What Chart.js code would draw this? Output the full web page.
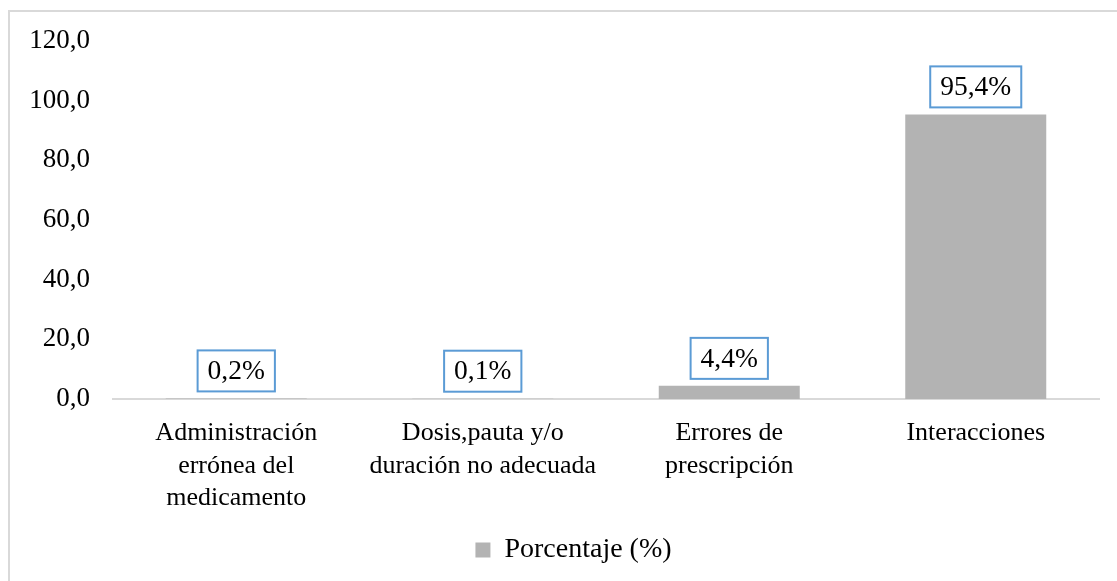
<!DOCTYPE html>
<html>
<head>
<meta charset="utf-8">
<script src="https://cdn.jsdelivr.net/npm/chart.js@4/dist/chart.umd.min.js"></script>
<style>
    html, body { margin: 0; padding: 0; background: #fff; overflow: hidden; }
    #wrap { position: relative; width: 1117px; height: 581px; }
    #frame {
        position: absolute; left: 8px; top: 10px; width: 1200px; height: 700px;
        border: 2px solid #d9d9d9; box-sizing: border-box;
    }
    canvas { position: absolute; left: 0; top: 0; }
</style>
</head>
<body>
<div id="wrap">
    <div id="frame"></div>
    <canvas id="chart" width="1117" height="581"></canvas>
</div>
<script>
// --- Chart data ---
const categories = [
    ['Administración', 'errónea del', 'medicamento'],
    ['Dosis,pauta y/o', 'duración no adecuada'],
    ['Errores de', 'prescripción'],
    ['Interacciones']
];
const porcentaje = [0.2, 0.1, 4.4, 95.4];
const seriesName = 'Porcentaje (%)';
const yTicks = [0, 20, 40, 60, 80, 100, 120];

const FONT = "'Liberation Serif', 'Times New Roman', serif";

// comma as decimal separator
const fmt = (v, digits) => v.toFixed(digits).replace('.', ',');

// --- Boxed value labels above each bar ---
const boxLabels = {
    id: 'boxLabels',
    afterDatasetsDraw(chart) {
        const ctx = chart.ctx;
        const meta = chart.getDatasetMeta(0);
        ctx.save();
        ctx.font = '27.5px ' + FONT;
        ctx.textAlign = 'center';
        ctx.textBaseline = 'middle';
        meta.data.forEach((bar, i) => {
            const text = fmt(porcentaje[i], 1) + '%';
            const w = ctx.measureText(text).width + 20;
            const h = 41;
            const bottom = bar.y - 7;
            const left = bar.x - w / 2;
            ctx.fillStyle = '#ffffff';
            ctx.fillRect(left, bottom - h, w, h);
            ctx.strokeStyle = '#5b9bd5';
            ctx.lineWidth = 2;
            ctx.strokeRect(left, bottom - h, w, h);
            ctx.fillStyle = '#000000';
            ctx.fillText(text, bar.x, bottom - h / 2 + 1);
        });
        ctx.restore();
    }
};

// nudge the legend to the right, the original frame is wider than the picture
const legendShift = {
    id: 'legendShift',
    afterLayout(chart) {
        chart.legend.left += 24;
        chart.legend.right += 24;
    }
};

new Chart(document.getElementById('chart'), {
    type: 'bar',
    data: {
        labels: categories,
        datasets: [{
            label: seriesName,
            data: porcentaje,
            backgroundColor: '#b3b3b3',
            categoryPercentage: 1,
            barPercentage: 0.572
        }]
    },
    options: {
        responsive: false,
        animation: false,
        devicePixelRatio: 1,
        layout: { padding: { top: 41, right: 18, left: 0, bottom: 7 } },
        plugins: {
            legend: {
                position: 'bottom',
                labels: {
                    color: '#000',
                    font: { family: FONT, size: 28 },
                    boxWidth: 15,
                    boxHeight: 15,
                    padding: 10
                }
            },
            tooltip: { enabled: false }
        },
        scales: {
            x: {
                grid: { display: false, drawTicks: false },
                border: { display: true, color: '#d9d9d9', width: 2 },
                ticks: {
                    color: '#000',
                    font: { family: FONT, size: 26, lineHeight: 1.25 },
                    padding: 18,
                    maxRotation: 0,
                    autoSkip: false
                },
                afterFit: (scale) => { scale.height = 127; }
            },
            y: {
                min: 0,
                max: 120,
                grid: { display: false, drawTicks: false },
                border: { display: false },
                afterBuildTicks: (scale) => { scale.ticks = yTicks.map(v => ({ value: v })); },
                ticks: {
                    color: '#000',
                    font: { family: FONT, size: 27 },
                    padding: 23,
                    callback: (v) => fmt(v, 1)
                },
                afterFit: (scale) => { scale.width = 113; }
            }
        }
    },
    plugins: [boxLabels, legendShift]
});
</script>
</body>
</html>
